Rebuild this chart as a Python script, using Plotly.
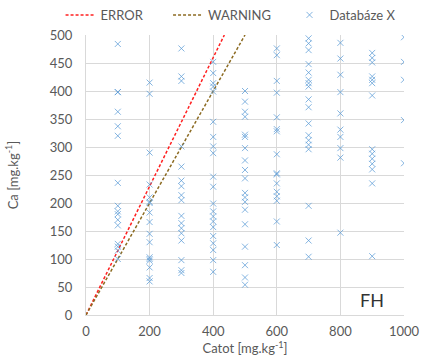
import plotly.graph_objects as go

# Measured samples: total Ca (Catot) vs. Ca, grouped by Catot level
catot_levels = [100, 200, 300, 400, 500, 600, 700, 800, 900, 1000]
ca_by_level = {
    100: [484, 398, 398, 363, 337, 320, 236, 195, 185, 180, 170, 160, 127, 122, 115, 100],
    200: [415, 395, 290, 233, 210, 202, 200, 183, 166, 145, 130, 103, 100, 97, 85, 66, 60],
    300: [476, 426, 418, 301, 265, 240, 230, 214, 205, 177, 164, 155, 146, 133, 98, 80, 75],
    400: [452, 432, 414, 408, 399, 345, 318, 301, 289, 247, 229, 199, 185, 176, 167, 157,
          141, 128, 116, 98, 77],
    500: [400, 381, 363, 354, 322, 318, 298, 276, 259, 244, 218, 210, 202, 188, 162, 122,
          89, 67, 54],
    600: [476, 464, 418, 397, 353, 332, 328, 287, 253, 251, 235, 220, 212, 204, 167, 125],
    700: [494, 485, 473, 448, 433, 420, 414, 408, 385, 371, 342, 321, 312, 304, 296, 195,
          133, 104],
    800: [486, 458, 429, 398, 360, 331, 318, 298, 281, 147],
    900: [468, 459, 451, 426, 420, 414, 392, 296, 288, 279, 270, 260, 235, 105],
    1000: [496, 452, 420, 348, 271],
}

# Limit lines
error_x = [0, 435]
error_y = [0, 500]
warning_x = [0, 500]
warning_y = [0, 500]

x_ticks = [0, 200, 400, 600, 800, 1000]
y_ticks = [0, 50, 100, 150, 200, 250, 300, 350, 400, 450, 500]

pts_x, pts_y = [], []
for lvl in catot_levels:
    for v in ca_by_level[lvl]:
        pts_x.append(lvl)
        pts_y.append(v)

font_family = "Lato, 'Open Sans', sans-serif"
txt = "#595959"
blue = "#5B9BD5"

fig = go.Figure()
fig.add_trace(go.Scatter(
    x=error_x, y=error_y, mode="lines", name="ERROR", legend="legend",
    line=dict(color="#FF2020", width=1.5, dash="3px,2px"),
))
fig.add_trace(go.Scatter(
    x=warning_x, y=warning_y, mode="lines", name="WARNING", legend="legend2",
    line=dict(color="#8C6B22", width=1.5, dash="3px,2px"),
))
fig.add_trace(go.Scatter(
    x=pts_x, y=pts_y, mode="markers", name="Databáze X", legend="legend3",
    marker=dict(symbol="x-thin-open", size=6, color=blue, opacity=0.75,
                line=dict(color=blue, width=1)),
))

fig.add_annotation(
    x=0.943, y=0.054, xref="paper", yref="paper", text="FH",
    showarrow=False, xanchor="right", yanchor="middle",
    font=dict(family=font_family, size=18, color="#333333"),
)

leg_common = dict(orientation="h", yanchor="bottom", y=1.018, xanchor="left",
                  font=dict(size=13, color=txt), bgcolor="rgba(0,0,0,0)")

fig.update_layout(
    width=422, height=363,
    margin=dict(l=86, r=18, t=35, b=48, autoexpand=False),
    paper_bgcolor="white", plot_bgcolor="white",
    font=dict(family=font_family, size=13, color=txt),
    showlegend=True,
    legend=dict(x=-0.08, **leg_common),
    legend2=dict(x=0.258, **leg_common),
    legend3=dict(x=0.64, **leg_common),
    xaxis=dict(
        range=[0, 1000], tickvals=x_ticks, showgrid=True, gridcolor="#D9D9D9",
        gridwidth=1, zeroline=False, showline=True, linecolor="#D9D9D9",
        ticks="", ticklabelstandoff=4,
        title=dict(text="Catot [mg.kg<sup>-1</sup>]", standoff=6,
                   font=dict(size=13, color=txt)),
        tickfont=dict(size=13, color=txt),
    ),
    yaxis=dict(
        range=[0, 500], tickvals=y_ticks, showgrid=True, gridcolor="#D9D9D9",
        gridwidth=1, zeroline=False, showline=True, linecolor="#D9D9D9",
        ticks="", ticklabelstandoff=10,
        title=dict(text="Ca [mg.kg<sup>-1</sup>]", standoff=28,
                   font=dict(size=13, color=txt)),
        tickfont=dict(size=13, color=txt),
    ),
)

fig.write_html("out.html")
